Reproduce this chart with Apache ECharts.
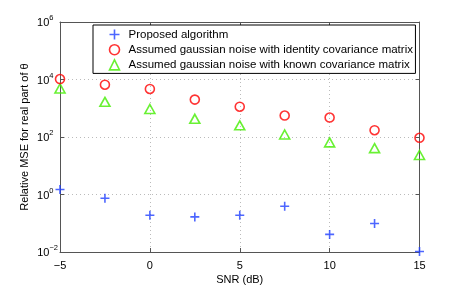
<!DOCTYPE html>
<html>
<head>
<meta charset="utf-8">
<script src="https://cdn.jsdelivr.net/npm/echarts@6/dist/echarts.min.js"></script>
<style>html,body{margin:0;padding:0;background:#fff}#c{width:463px;height:290px}</style>
</head>
<body>
<div id="c"></div>
<script>
var snr = [-5, -2.5, 0, 2.5, 5, 7.5, 10, 12.5, 15];
var proposed = [1.49, 0.74, 0.189, 0.166, 0.189, 0.39, 0.041, 0.098, 0.0104];
var identityCov = [10400, 6600, 4700, 2000, 1130, 557, 476, 172, 94];
var knownCov = [4900, 1670, 940, 430, 254, 122, 65, 41, 23.7];
var seriesNames = ['Proposed algorithm',
  'Assumed gaussian noise with identity covariance matrix',
  'Assumed gaussian noise with known covariance matrix'];

function pairs(ys){ return snr.map(function(x,i){ return [x, ys[i]]; }); }
var plusPath = 'path://M5,0L5,10M0,5L10,5';
var FONT = 'Liberation Sans, Arial, sans-serif';

var chart = echarts.init(document.getElementById('c'), null, {renderer:'canvas'});
var tickLabel = {
  color:'#000', fontFamily:FONT, fontSize:11, margin:2,
  formatter:function(v){
    var e=Math.round(Math.log(v)/Math.LN10);
    return e<0 ? '{n|10}{m|\u2212'+(-e)+'}' : '{n|10}{p|'+e+'}';
  },
  rich:{
    n:{ fontSize:11, padding:[2,0,0,0], fontFamily:FONT, color:'#000' },
    m:{ fontSize:7.5, verticalAlign:'top', padding:[0,0,8,0], fontFamily:FONT, color:'#000' },
    p:{ fontSize:7.5, verticalAlign:'top', padding:[0,4.5,8,0], fontFamily:FONT, color:'#000' }
  }
};
chart.setOption({
  animation:false,
  backgroundColor:'#fff',
  grid:{left:60, right:43.5, top:22, bottom:32.7, containLabel:false},
  legend:{
    orient:'vertical', left:93, top:25, width:322,
    backgroundColor:'#fff', borderColor:'#000', borderWidth:1, borderRadius:0,
    padding:[2,2.5,1,14], itemGap:0.2, itemWidth:10, itemHeight:10,
    textStyle:{fontFamily:FONT, fontSize:11.5, lineHeight:14, color:'#000', padding:[0,0,0,4]},
    data:[
      {name:seriesNames[0], icon:plusPath, itemStyle:{color:'none', borderColor:'#2040ff', borderWidth:1.6}},
      {name:seriesNames[1], icon:'circle', itemStyle:{color:'none', borderColor:'#ff0000', borderWidth:1.6}},
      {name:seriesNames[2], icon:'triangle', itemStyle:{color:'none', borderColor:'#44ee00', borderWidth:1.6}}
    ]
  },
  xAxis:[{
    type:'value', min:-5, max:15, interval:5,
    name:'SNR (dB)', nameLocation:'middle', nameGap:22, nameMoveOverlap:false,
    nameTextStyle:{fontFamily:FONT, fontSize:11, color:'#000'},
    axisLine:{onZero:false, lineStyle:{color:'#555', width:1}},
    axisTick:{inside:true, length:4, lineStyle:{color:'#555'}},
    axisLabel:{color:'#000', fontFamily:FONT, fontSize:11, margin:8,
      formatter:function(v){ return v<0?'\u2212'+(-v):String(v);} },
    splitLine:{show:true, lineStyle:{color:'#bbb', type:[1,3], width:1}}
  },{
    type:'value', min:-5, max:15, interval:5, position:'top',
    axisLine:{onZero:false, lineStyle:{color:'#555'}},
    axisTick:{inside:true, length:4, lineStyle:{color:'#555'}},
    axisLabel:{show:false}, splitLine:{show:false}
  }],
  yAxis:[{
    type:'log', logBase:10, min:0.01, max:1e6, interval:2,
    name:'Relative MSE for real part of \u03b8', nameLocation:'middle', nameGap:30, nameMoveOverlap:false,
    nameTextStyle:{fontFamily:FONT, fontSize:11, color:'#000'},
    axisLine:{show:true, onZero:false, lineStyle:{color:'#555', width:1}},
    axisTick:{show:true, inside:true, length:4, lineStyle:{color:'#555'}},
    minorTick:{show:false},
    axisLabel:tickLabel,
    splitLine:{show:true, lineStyle:{color:'#bbb', type:[1,3], width:1}}
  },{
    type:'log', logBase:10, min:0.01, max:1e6, interval:2, position:'right',
    axisLine:{show:true, onZero:false, lineStyle:{color:'#555'}},
    axisTick:{show:true, inside:true, length:4, lineStyle:{color:'#555'}},
    axisLabel:{show:false}, splitLine:{show:false}
  }],
  series:[
    {name:seriesNames[0], type:'scatter', data:pairs(proposed), symbol:plusPath, symbolSize:9,
      itemStyle:{color:'none', borderColor:'#2040ff', borderWidth:1.6}, z:5},
    {name:seriesNames[1], type:'scatter', data:pairs(identityCov), symbol:'circle', symbolSize:9,
      itemStyle:{color:'none', borderColor:'#ff0000', borderWidth:1.6}, z:4},
    {name:seriesNames[2], type:'scatter', data:pairs(knownCov), symbol:'triangle', symbolSize:[10,9],
      itemStyle:{color:'none', borderColor:'#44ee00', borderWidth:1.6}, z:3}
  ]
});
</script>
</body>
</html>
